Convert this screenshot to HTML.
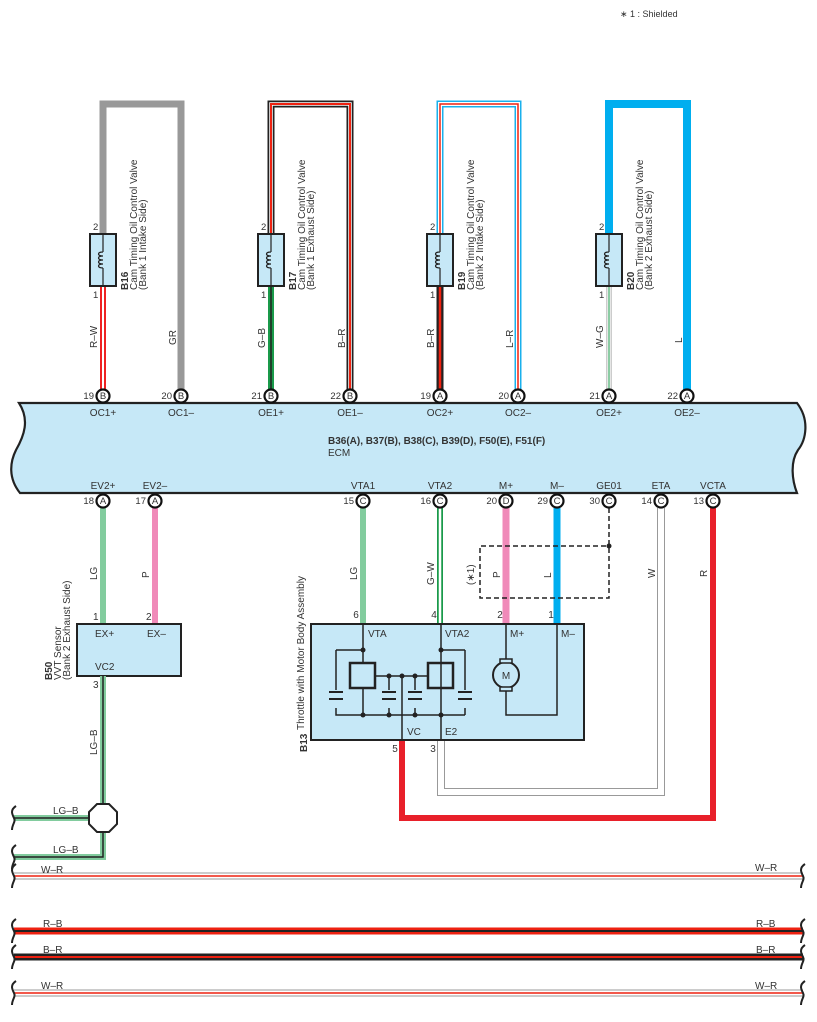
<!DOCTYPE html>
<html><head><meta charset="utf-8"><style>
html,body{margin:0;padding:0;background:#fff}
svg{display:block}
text{font-family:"Liberation Sans",sans-serif;fill:#333}
</style></head><body>
<svg width="817" height="1022" viewBox="0 0 817 1022" xmlns="http://www.w3.org/2000/svg">
<g fill="none" stroke-linejoin="miter">
<path d="M103,234 V104 H181 V390" stroke="#999" stroke-width="7"/>
<path d="M271,234 V104 H350 V390" stroke="#222" stroke-width="7"/>
<path d="M271,234 V104 H350 V390" stroke="#fff" stroke-width="3.5"/>
<path d="M271,234 V104 H350 V390" stroke="#e21" stroke-width="2"/>
<path d="M440,234 V104 H518 V390" stroke="#1ab0ec" stroke-width="7"/>
<path d="M440,234 V104 H518 V390" stroke="#fff" stroke-width="4"/>
<path d="M440,234 V104 H518 V390" stroke="#e21" stroke-width="1.5"/>
<path d="M609,234 V104 H687 V390" stroke="#00aeef" stroke-width="8"/>
<path d="M103,286 V390" stroke="#e22" stroke-width="6"/><path d="M103,286 V390" stroke="#fff" stroke-width="2"/>
<path d="M271,286 V390" stroke="#1a9a4a" stroke-width="6"/><path d="M271,286 V390" stroke="#222" stroke-width="1.5"/>
<path d="M440,286 V390" stroke="#222" stroke-width="7"/><path d="M440,286 V390" stroke="#e21" stroke-width="2.5"/>
<path d="M609,286 V390" stroke="#999" stroke-width="5"/><path d="M609,286 V390" stroke="#fff" stroke-width="3.5"/><path d="M609,286 V390" stroke="#1a9a4a" stroke-width="1"/>
</g>
<g stroke="#222" stroke-width="2" fill="#c6e8f7">
<rect x="90" y="234" width="26" height="52"/><rect x="258" y="234" width="26" height="52"/>
<rect x="427" y="234" width="26" height="52"/><rect x="596" y="234" width="26" height="52"/>
</g>
<g stroke="#222" stroke-width="1.2" fill="none">
<path d="M103,234 V252 M103,268 V286 M103,252 c-6,0 -6,4 0,4 c-6,0 -6,4 0,4 c-6,0 -6,4 0,4 c-6,0 -6,4 0,4"/>
<path d="M271,234 V252 M271,268 V286 M271,252 c-6,0 -6,4 0,4 c-6,0 -6,4 0,4 c-6,0 -6,4 0,4 c-6,0 -6,4 0,4"/>
<path d="M440,234 V252 M440,268 V286 M440,252 c-6,0 -6,4 0,4 c-6,0 -6,4 0,4 c-6,0 -6,4 0,4 c-6,0 -6,4 0,4"/>
<path d="M609,234 V252 M609,268 V286 M609,252 c-6,0 -6,4 0,4 c-6,0 -6,4 0,4 c-6,0 -6,4 0,4 c-6,0 -6,4 0,4"/>
</g>
<g font-size="9.5">
<text x="93" y="230">2</text><text x="93" y="298">1</text>
<text x="261" y="230">2</text><text x="261" y="298">1</text>
<text x="430" y="230">2</text><text x="430" y="298">1</text>
<text x="599" y="230">2</text><text x="599" y="298">1</text>
</g>
<g font-size="10">
<g transform="translate(128,290) rotate(-90)"><text x="0" y="0" font-weight="bold" fill="#222">B16</text><text x="0" y="9">Cam Timing Oil Control Valve</text><text x="0" y="18">(Bank 1 Intake Side)</text></g>
<g transform="translate(296,290) rotate(-90)"><text x="0" y="0" font-weight="bold" fill="#222">B17</text><text x="0" y="9">Cam Timing Oil Control Valve</text><text x="0" y="18">(Bank 1 Exhaust Side)</text></g>
<g transform="translate(465,290) rotate(-90)"><text x="0" y="0" font-weight="bold" fill="#222">B19</text><text x="0" y="9">Cam Timing Oil Control Valve</text><text x="0" y="18">(Bank 2 Intake Side)</text></g>
<g transform="translate(634,290) rotate(-90)"><text x="0" y="0" font-weight="bold" fill="#222">B20</text><text x="0" y="9">Cam Timing Oil Control Valve</text><text x="0" y="18">(Bank 2 Exhaust Side)</text></g>
</g>
<g font-size="10">
<text transform="translate(97,348) rotate(-90)">R–W</text>
<text transform="translate(176,345) rotate(-90)">GR</text>
<text transform="translate(265,348) rotate(-90)">G–B</text>
<text transform="translate(345,348) rotate(-90)">B–R</text>
<text transform="translate(434,348) rotate(-90)">B–R</text>
<text transform="translate(513,348) rotate(-90)">L–R</text>
<text transform="translate(603,348) rotate(-90)">W–G</text>
<text transform="translate(682,343) rotate(-90)">L</text>
</g>
<path d="M19,403 H797 C810,420 806,440 798,450 C790,462 792,480 797,493 H20 C8,478 10,462 16,450 C24,436 30,420 19,403 Z" fill="#c6e8f7" stroke="#222" stroke-width="2.2"/>
<text x="328" y="444" font-size="10" font-weight="bold" fill="#222">B36(A), B37(B), B38(C), B39(D), F50(E), F51(F)</text>
<text x="328" y="456" font-size="10">ECM</text>
<g font-size="10" text-anchor="middle">
<text x="103" y="416">OC1+</text><text x="181" y="416">OC1–</text><text x="271" y="416">OE1+</text><text x="350" y="416">OE1–</text>
<text x="440" y="416">OC2+</text><text x="518" y="416">OC2–</text><text x="609" y="416">OE2+</text><text x="687" y="416">OE2–</text>
<text x="103" y="489">EV2+</text><text x="155" y="489">EV2–</text><text x="363" y="489">VTA1</text><text x="440" y="489">VTA2</text>
<text x="506" y="489">M+</text><text x="557" y="489">M–</text><text x="609" y="489">GE01</text><text x="661" y="489">ETA</text><text x="713" y="489">VCTA</text>
</g>
<g fill="none">
<path d="M103,508 V624" stroke="#82cc9e" stroke-width="6"/>
<path d="M155,508 V624" stroke="#f08ab9" stroke-width="6"/>
<path d="M363,508 V624" stroke="#82cc9e" stroke-width="6"/>
<path d="M440,508 V624" stroke="#1a9a4a" stroke-width="6"/><path d="M440,508 V624" stroke="#fff" stroke-width="2.5"/>
<path d="M506,508 V624" stroke="#f08ab9" stroke-width="7"/>
<path d="M557,508 V624" stroke="#00aeef" stroke-width="7"/>
<path d="M713,508 V818 H402 V740" stroke="#e8202a" stroke-width="6"/>
<path d="M661,508 V792 H441 V740" stroke="#999" stroke-width="8"/>
<path d="M661,508 V792 H441 V740" stroke="#fff" stroke-width="6"/>
<path d="M609,508 V598 H480 V546 H609" stroke="#222" stroke-width="1.5" stroke-dasharray="5,3"/>
</g>
<circle cx="609" cy="546" r="2.5" fill="#222"/>
<g font-size="10">
<text transform="translate(97,580) rotate(-90)">LG</text>
<text transform="translate(149,578) rotate(-90)">P</text>
<text transform="translate(357,580) rotate(-90)">LG</text>
<text transform="translate(434,585) rotate(-90)">G–W</text>
<text transform="translate(500,578) rotate(-90)">P</text>
<text transform="translate(474,585) rotate(-90)">(∗1)</text>
<text transform="translate(551,578) rotate(-90)">L</text>
<text transform="translate(655,578) rotate(-90)">W</text>
<text transform="translate(707,577) rotate(-90)">R</text>
</g>
<g font-size="9.5" text-anchor="middle">
<g stroke="#111" stroke-width="2.2" fill="#fff">
<circle cx="103" cy="396" r="6.5"/><circle cx="181" cy="396" r="6.5"/><circle cx="271" cy="396" r="6.5"/><circle cx="350" cy="396" r="6.5"/>
<circle cx="440" cy="396" r="6.5"/><circle cx="518" cy="396" r="6.5"/><circle cx="609" cy="396" r="6.5"/><circle cx="687" cy="396" r="6.5"/>
<circle cx="103" cy="501" r="6.5"/><circle cx="155" cy="501" r="6.5"/><circle cx="363" cy="501" r="6.5"/><circle cx="440" cy="501" r="6.5"/>
<circle cx="506" cy="501" r="6.5"/><circle cx="557" cy="501" r="6.5"/><circle cx="609" cy="501" r="6.5"/><circle cx="661" cy="501" r="6.5"/><circle cx="713" cy="501" r="6.5"/>
</g>
<text x="103" y="399">B</text><text x="181" y="399">B</text><text x="271" y="399">B</text><text x="350" y="399">B</text>
<text x="440" y="399">A</text><text x="518" y="399">A</text><text x="609" y="399">A</text><text x="687" y="399">A</text>
<text x="103" y="504">A</text><text x="155" y="504">A</text><text x="363" y="504">C</text><text x="440" y="504">C</text>
<text x="506" y="504">D</text><text x="557" y="504">C</text><text x="609" y="504">C</text><text x="661" y="504">C</text><text x="713" y="504">C</text>
</g>
<g font-size="9.5" text-anchor="end">
<text x="94" y="399">19</text><text x="172" y="399">20</text><text x="262" y="399">21</text><text x="341" y="399">22</text>
<text x="431" y="399">19</text><text x="509" y="399">20</text><text x="600" y="399">21</text><text x="678" y="399">22</text>
<text x="94" y="504">18</text><text x="146" y="504">17</text><text x="354" y="504">15</text><text x="431" y="504">16</text>
<text x="497" y="504">20</text><text x="548" y="504">29</text><text x="600" y="504">30</text><text x="652" y="504">14</text><text x="704" y="504">13</text>
</g>
<rect x="77" y="624" width="104" height="52" fill="#c6e8f7" stroke="#222" stroke-width="2"/>
<g font-size="10"><text x="95" y="637">EX+</text><text x="147" y="637">EX–</text><text x="95" y="670">VC2</text>
<text x="93" y="620">1</text><text x="146" y="620">2</text><text x="93" y="688">3</text></g>
<g font-size="10" transform="translate(52,680) rotate(-90)"><text x="0" y="0" font-weight="bold" fill="#222">B50</text><text x="0" y="9">VVT Sensor</text><text x="0" y="18">(Bank 2 Exhaust Side)</text></g>
<g fill="none">
<path d="M103,676 V818 H14" stroke="#82cc9e" stroke-width="6"/><path d="M103,676 V818 H14" stroke="#222" stroke-width="1.5"/>
<path d="M103,818 V857 H14" stroke="#82cc9e" stroke-width="6"/><path d="M103,818 V857 H14" stroke="#222" stroke-width="1.5"/>
</g>
<path d="M97,804 H109 L117,812 V824 L109,832 H97 L89,824 V812 Z" fill="#fff" stroke="#222" stroke-width="2"/>
<g font-size="10" text-anchor="middle"><text x="356" y="618">6</text><text x="434" y="618">4</text><text x="500" y="618">2</text><text x="551" y="618">1</text>
<text x="395" y="752">5</text><text x="433" y="752">3</text></g>
<g font-size="10"><text x="53" y="814">LG–B</text><text x="53" y="853">LG–B</text>
<text transform="translate(97,755) rotate(-90)">LG–B</text></g>
<rect x="311" y="624" width="273" height="116" fill="#c6e8f7" stroke="#222" stroke-width="2"/>
<g font-size="10"><text x="368" y="637">VTA</text><text x="445" y="637">VTA2</text><text x="510" y="637">M+</text><text x="561" y="637">M–</text>
<text x="407" y="735">VC</text><text x="445" y="735">E2</text></g>
<g font-size="10" transform="translate(307,752) rotate(-90)"><text x="0" y="0" font-weight="bold" fill="#222">B13</text></g>
<text font-size="10" transform="translate(304,730) rotate(-90)">Throttle with Motor Body Assembly</text>
<g stroke="#222" stroke-width="1.5" fill="none">
<path d="M363,624 V650 M336,650 H363 M336,650 V690 M336,708 V715 H465 M465,650 V690 M465,708 V715 M441,650 H465 M441,624 V740 M363,650 V663 M363,688 V715"/>
<rect x="350" y="663" width="25" height="25" stroke-width="2.5"/><rect x="428" y="663" width="25" height="25" stroke-width="2.5"/>
<path d="M375,676 H428 M389,676 V690 M389,708 V715 M415,676 V690 M415,708 V715 M402,676 V740"/>
<path d="M329,692 H343 M329,699 H343 M382,692 H396 M382,699 H396 M408,692 H422 M408,699 H422 M458,692 H472 M458,699 H472" stroke-width="2"/>
<path d="M506,624 V660 M506,690 V715 H557 V624"/>
<circle cx="506" cy="675" r="13" stroke-width="2" fill="#c6e8f7"/>
<rect x="500" y="659" width="12" height="4" fill="#c6e8f7"/><rect x="500" y="687" width="12" height="4" fill="#c6e8f7"/>
</g>
<g fill="#222"><circle cx="363" cy="650" r="2.5"/><circle cx="441" cy="650" r="2.5"/><circle cx="389" cy="676" r="2.5"/><circle cx="402" cy="676" r="2.5"/><circle cx="415" cy="676" r="2.5"/>
<circle cx="363" cy="715" r="2.5"/><circle cx="389" cy="715" r="2.5"/><circle cx="415" cy="715" r="2.5"/><circle cx="441" cy="715" r="2.5"/></g>
<text x="506" y="679" font-size="10" text-anchor="middle">M</text>
<g fill="none">
<path d="M14,876 H803" stroke="#999" stroke-width="7"/><path d="M14,876 H803" stroke="#fff" stroke-width="5"/><path d="M14,876 H803" stroke="#e21" stroke-width="1.5"/>
<path d="M14,931 H803" stroke="#e21" stroke-width="7"/><path d="M14,931 H803" stroke="#222" stroke-width="2"/>
<path d="M14,957 H803" stroke="#222" stroke-width="7"/><path d="M14,957 H803" stroke="#e21" stroke-width="2"/>
<path d="M14,993 H803" stroke="#999" stroke-width="7"/><path d="M14,993 H803" stroke="#fff" stroke-width="5"/><path d="M14,993 H803" stroke="#e21" stroke-width="1.5"/>
</g>
<g stroke="#222" stroke-width="2" fill="none">
<path d="M16,806 c-6,4 -4,8 -2,12 c2,4 -2,6 -2,12"/><path d="M16,845 c-6,4 -4,8 -2,12 c2,4 -2,6 -2,12"/>
<path d="M16,864 c-6,4 -4,8 -2,12 c2,4 -2,6 -2,12"/><path d="M16,919 c-6,4 -4,8 -2,12 c2,4 -2,6 -2,12"/>
<path d="M16,945 c-6,4 -4,8 -2,12 c2,4 -2,6 -2,12"/><path d="M16,981 c-6,4 -4,8 -2,12 c2,4 -2,6 -2,12"/>
<path d="M805,864 c-6,4 -4,8 -2,12 c2,4 -2,6 -2,12"/><path d="M805,919 c-6,4 -4,8 -2,12 c2,4 -2,6 -2,12"/>
<path d="M805,945 c-6,4 -4,8 -2,12 c2,4 -2,6 -2,12"/><path d="M805,981 c-6,4 -4,8 -2,12 c2,4 -2,6 -2,12"/>
</g>
<g font-size="10"><text x="41" y="873">W–R</text><text x="43" y="927">R–B</text><text x="43" y="953">B–R</text><text x="41" y="989">W–R</text>
<text x="755" y="871">W–R</text><text x="756" y="927">R–B</text><text x="756" y="953">B–R</text><text x="755" y="989">W–R</text></g>
<text x="620" y="17" font-size="9">∗ 1 : Shielded</text>
</svg>
</body></html>
